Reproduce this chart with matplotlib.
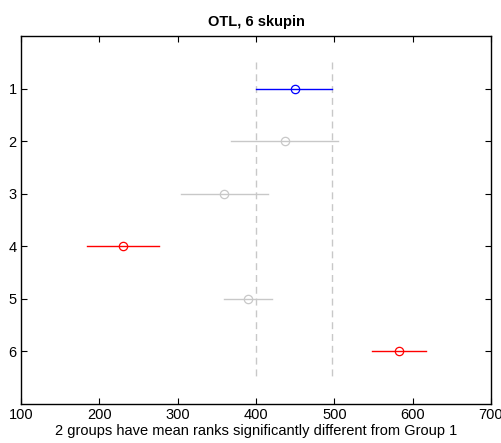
import matplotlib
matplotlib.use("Agg")
import matplotlib.pyplot as plt

groups = [1, 2, 3, 4, 5, 6]
means = [449.4, 437.2, 359.6, 230.3, 389.5, 582.4]
lower = [400.1, 368.2, 304.3, 183.9, 358.9, 548.3]
upper = [497.5, 504.5, 415.8, 276.6, 420.6, 617.6]
colors = ['#0000ff', '#c8c8c8', '#c8c8c8', '#ff0000', '#c8c8c8', '#ff0000']
title = "OTL, 6 skupin"
xlabel = "2 groups have mean ranks significantly different from Group 1"
xticks = [100, 200, 300, 400, 500, 600, 700]

plt.rcParams['font.family'] = ['Liberation Sans', 'DejaVu Sans']
fig = plt.figure(figsize=(5.02, 4.43), dpi=100)
ax = fig.add_axes([21/502, 1 - 404/443, 470/502, 368/443])

ref = 0
ax.plot([lower[ref], lower[ref]], [0.5, 6.5], color='#c8c8c8', ls=(0, (5, 3.5)), lw=1)
ax.plot([upper[ref], upper[ref]], [0.5, 6.5], color='#c8c8c8', ls=(0, (5, 3.5)), lw=1)

for g, m, lo, hi, c in zip(groups, means, lower, upper, colors):
    ax.plot([lo, hi], [g, g], color=c, lw=1)
    ax.plot([m], [g], marker='o', mfc='none', mec=c, ms=6, mew=0.9)

ax.set_xlim(100, 700)
ax.set_ylim(7, 0)
ax.set_xticks(xticks)
ax.set_yticks(groups)
ax.tick_params(direction='in', top=True, right=True, length=4, labelsize=10.5, width=0.8, pad=3)
for s in ax.spines.values():
    s.set_linewidth(1)
ax.set_title(title, fontsize=10.5, fontweight='bold', pad=7)
ax.set_xlabel(xlabel, fontsize=10.5, labelpad=1)
fig.savefig("out.png", dpi=100)
